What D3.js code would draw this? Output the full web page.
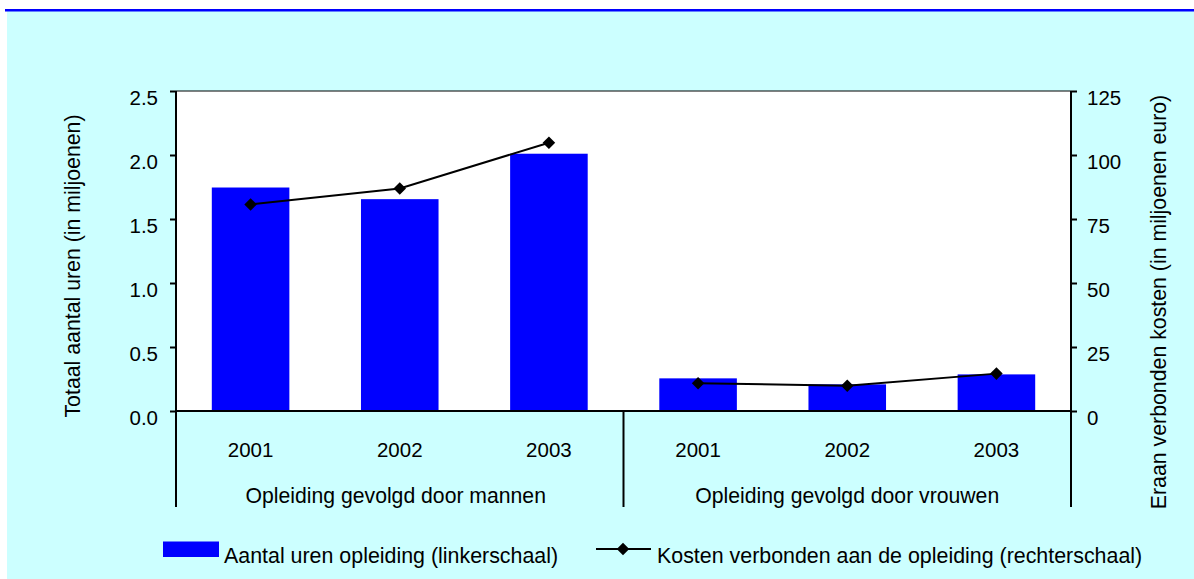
<!DOCTYPE html>
<html>
<head>
<meta charset="utf-8">
<script src="https://cdn.jsdelivr.net/npm/d3@7"></script>
<style>
  body { margin: 0; background: #fff; }
  svg text { font-family: "Liberation Sans", Arial, sans-serif; fill: #000; }
</style>
</head>
<body>
<div id="chart"></div>
<script>
const groups = ['Opleiding gevolgd door mannen', 'Opleiding gevolgd door vrouwen']
const years = ['2001', '2002', '2003']
const uren = [1.746, 1.655, 2.01, 0.255, 0.208, 0.286]      // linkerschaal
const kosten = [80.7, 86.9, 104.8, 10.8, 9.9, 14.6]         // rechterschaal
const leftTicks = [0, 0.5, 1.0, 1.5, 2.0, 2.5]
const rightTicks = [0, 25, 50, 75, 100, 125]

const W = 1194, H = 579
const plot = { left: 176, right: 1071, top: 91, bottom: 411 }
const axisBottom = 507

const data = []
groups.forEach((g, gi) => years.forEach((y, yi) => {
    const i = gi * years.length + yi
    data.push({ key: g + '|' + y, group: g, year: y, uren: uren[i], kosten: kosten[i] })
}))

const x = d3.scaleBand()
    .domain(data.map(d => d.key))
    .range([plot.left, plot.right])
    .paddingInner(0.48)
    .paddingOuter(0.24)

const yL = d3.scaleLinear().domain([0, 2.5]).range([plot.bottom, plot.top])
const yR = d3.scaleLinear().domain([0, 125]).range([plot.bottom, plot.top])

const svg = d3.select('#chart').append('svg')
    .attr('width', W)
    .attr('height', H)

// background + top rule
svg.append('rect').attr('x', 7).attr('y', 11).attr('width', W - 7).attr('height', H - 11).attr('fill', '#CCFFFF')
svg.append('rect').attr('x', 5).attr('y', 9).attr('width', W - 5).attr('height', 2.5).attr('fill', '#0000FF')

// plot area
svg.append('rect')
    .attr('x', plot.left).attr('y', plot.top)
    .attr('width', plot.right - plot.left).attr('height', plot.bottom - plot.top)
    .attr('fill', '#fff')

svg.append('line')
    .attr('x1', plot.left).attr('x2', plot.right)
    .attr('y1', plot.top).attr('y2', plot.top)
    .attr('stroke', '#000').attr('stroke-width', 1)

// bars
svg.selectAll('.bar')
    .data(data)
    .enter().append('rect')
    .attr('class', 'bar')
    .attr('x', d => x(d.key))
    .attr('width', x.bandwidth())
    .attr('y', d => yL(d.uren))
    .attr('height', d => yL(0) - yL(d.uren))
    .attr('fill', '#0000FF')

// baseline
svg.append('line')
    .attr('x1', plot.left).attr('x2', plot.right)
    .attr('y1', yL(0)).attr('y2', yL(0))
    .attr('stroke', '#000').attr('stroke-width', 2)

// left axis
const leftAxis = svg.append('g')
    .attr('transform', `translate(${plot.left},0)`)
    .call(d3.axisLeft(yL).tickValues(leftTicks).tickFormat(d3.format('.1f')).tickSize(6).tickPadding(12))
leftAxis.select('.domain').remove()
leftAxis.selectAll('line').attr('stroke', '#000').attr('stroke-width', 2)
leftAxis.selectAll('text').attr('font-size', 20.5).attr('dy', '0.66em')
    .style('font-family', '"Liberation Sans", Arial, sans-serif')

// right axis
const rightAxis = svg.append('g')
    .attr('transform', `translate(${plot.right},0)`)
    .call(d3.axisRight(yR).tickValues(rightTicks).tickSize(6).tickPadding(10))
rightAxis.select('.domain').remove()
rightAxis.selectAll('line').attr('stroke', '#000').attr('stroke-width', 2)
rightAxis.selectAll('text').attr('font-size', 20.5).attr('dy', '0.66em')
    .style('font-family', '"Liberation Sans", Arial, sans-serif')

// vertical axis lines (extend below plot to frame category labels)
const sepX = (x(data[2].key) + x.bandwidth() + x(data[3].key)) / 2
;[plot.left, plot.right].forEach(px => {
    svg.append('line')
        .attr('x1', px).attr('x2', px)
        .attr('y1', plot.top).attr('y2', axisBottom)
        .attr('stroke', '#000').attr('stroke-width', 2)
})
svg.append('line')
    .attr('x1', sepX).attr('x2', sepX)
    .attr('y1', plot.bottom).attr('y2', axisBottom)
    .attr('stroke', '#000').attr('stroke-width', 2)

// line series
const line = d3.line()
    .x(d => x(d.key) + x.bandwidth() / 2)
    .y(d => yR(d.kosten))

groups.forEach(g => {
    svg.append('path')
        .datum(data.filter(d => d.group === g))
        .attr('d', line)
        .attr('fill', 'none')
        .attr('stroke', '#000')
        .attr('stroke-width', 2)
})

const diamond = d3.symbol().type(d3.symbolDiamond2).size(100)
svg.selectAll('.dot')
    .data(data)
    .enter().append('path')
    .attr('class', 'dot')
    .attr('d', diamond)
    .attr('transform', d => `translate(${x(d.key) + x.bandwidth() / 2},${yR(d.kosten)})`)
    .attr('fill', '#000')

// year labels
svg.selectAll('.year')
    .data(data)
    .enter().append('text')
    .attr('class', 'year')
    .attr('x', d => x(d.key) + x.bandwidth() / 2)
    .attr('y', 457)
    .attr('text-anchor', 'middle')
    .attr('font-size', 20.5)
    .text(d => d.year)

// group labels
const groupMid = [(plot.left + sepX) / 2 - 4, (sepX + plot.right) / 2]
svg.selectAll('.group')
    .data(groups)
    .enter().append('text')
    .attr('class', 'group')
    .attr('x', (d, i) => groupMid[i])
    .attr('y', 503)
    .attr('text-anchor', 'middle')
    .attr('font-size', 21.2)
    .text(d => d)

// axis titles
svg.append('text')
    .attr('transform', 'translate(80,266) rotate(-90)')
    .attr('text-anchor', 'middle')
    .attr('font-size', 21.3)
    .text('Totaal aantal uren (in miljoenen)')

svg.append('text')
    .attr('transform', 'translate(1166,302) rotate(-90)')
    .attr('text-anchor', 'middle')
    .attr('font-size', 21.3)
    .text('Eraan verbonden kosten (in miljoenen euro)')

// legend
const legend = svg.append('g')
legend.append('rect')
    .attr('x', 163).attr('y', 541.5).attr('width', 56).attr('height', 15.5)
    .attr('fill', '#0000FF')
legend.append('text')
    .attr('x', 224).attr('y', 562.5)
    .attr('font-size', 21.4)
    .text('Aantal uren opleiding (linkerschaal)')

legend.append('line')
    .attr('x1', 596).attr('x2', 651).attr('y1', 549).attr('y2', 549)
    .attr('stroke', '#000').attr('stroke-width', 2)
legend.append('path')
    .attr('d', diamond)
    .attr('transform', 'translate(623,549)')
    .attr('fill', '#000')
legend.append('text')
    .attr('x', 657).attr('y', 562.5)
    .attr('font-size', 21.4)
    .text('Kosten verbonden aan de opleiding (rechterschaal)')
</script>
</body>
</html>
